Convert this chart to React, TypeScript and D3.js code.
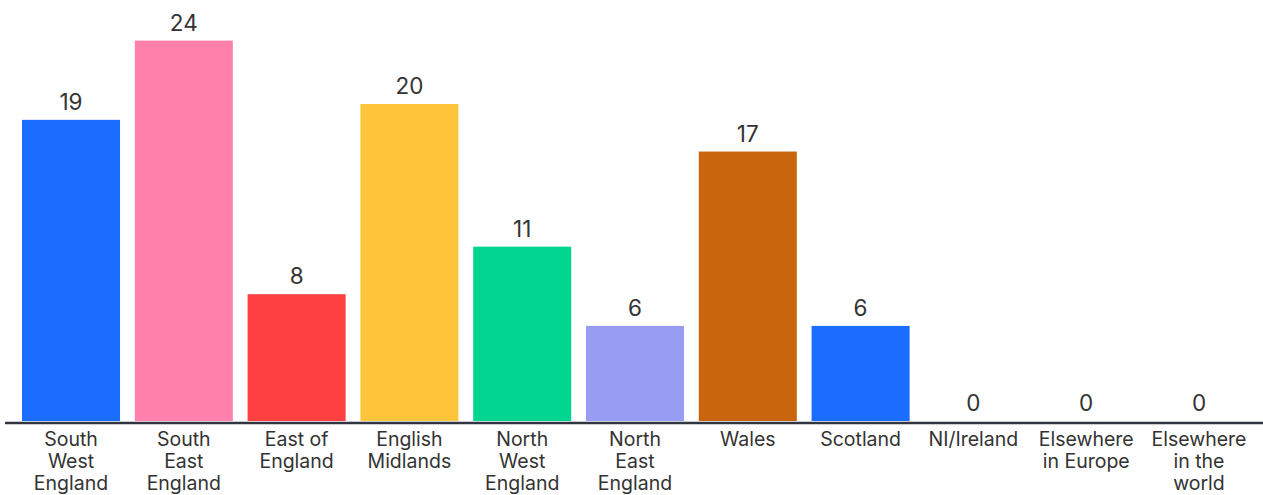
import React from "react";
import * as d3 from "d3";

const categories: string[][] = [
  ["South", "West", "England"],
  ["South", "East", "England"],
  ["East of", "England"],
  ["English", "Midlands"],
  ["North", "West", "England"],
  ["North", "East", "England"],
  ["Wales"],
  ["Scotland"],
  ["NI/Ireland"],
  ["Elsewhere", "in Europe"],
  ["Elsewhere", "in the", "world"],
];
const values: number[] = [19, 24, 8, 20, 11, 6, 17, 6, 0, 0, 0];
const colors: string[] = [
  "#1a6dff",
  "#ff80ab",
  "#ff4040",
  "#ffc53a",
  "#00d68f",
  "#989cf3",
  "#c9650c",
  "#1a6dff",
  "#1a6dff",
  "#1a6dff",
  "#1a6dff",
];

const W = 1263;
const H = 495;
const FONT = "Inter, 'Noto Sans', sans-serif";
const TEXT = "#333333";

export default function App() {
  const keys = categories.map((_, i) => String(i));
  const x = d3.scaleBand<string>().domain(keys).range([22, 1248]).paddingInner(0.131).paddingOuter(0);
  const y = d3.scaleLinear().domain([0, 24]).range([421, 40.6]);

  return (
    <svg width={W} height={H} style={{ position: "absolute", left: 0, top: 0, background: "#fff" }}>
      {values.map((v, i) => {
        const bx = x(keys[i])!;
        const bw = x.bandwidth();
        return (
          <g key={i}>
            {v > 0 && (
              <rect x={bx} y={y(v)} width={bw} height={y(0) - y(v)} fill={colors[i]} />
            )}
            <text
              x={bx + bw / 2}
              y={y(v) - 10}
              textAnchor="middle"
              fontFamily={FONT}
              fontSize={22.5}
              fill={TEXT}
            >
              {v}
            </text>
            {categories[i].map((line, j) => (
              <text
                key={j}
                x={bx + bw / 2}
                y={445.5 + j * 22}
                textAnchor="middle"
                fontFamily={FONT}
                fontSize={19.5}
                fill={TEXT}
              >
                {line}
              </text>
            ))}
          </g>
        );
      })}
      <line x1={5} x2={W} y1={y(0) + 2} y2={y(0) + 2} stroke="#2f3440" strokeWidth={2.5} />
    </svg>
  );
}
